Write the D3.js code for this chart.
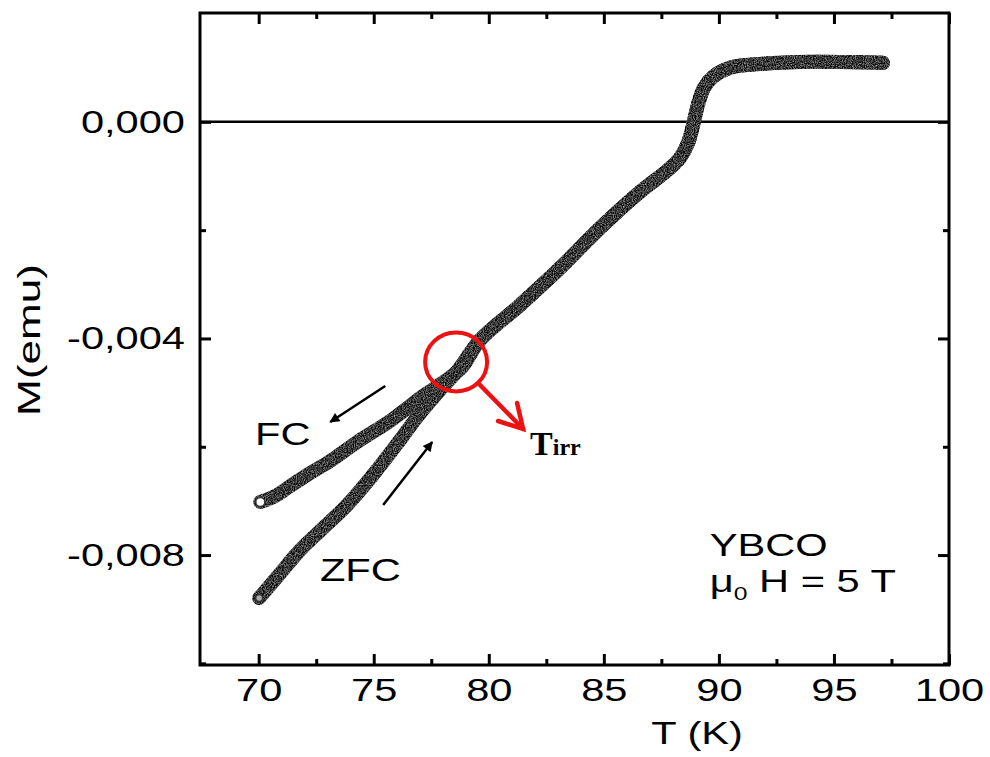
<!DOCTYPE html>
<html>
<head>
<meta charset="utf-8">
<script src="https://cdn.jsdelivr.net/npm/d3@7/dist/d3.min.js"></script>
<style>
  html, body { margin: 0; padding: 0; background: #fff; }
  svg { display: block; }
  text { font-family: "Liberation Sans", Arial, sans-serif; fill: #000; }
</style>
</head>
<body>
<svg id="chart" width="990" height="757"></svg>
<script>
// Magnetization M(T) of YBCO at 5 T: field-cooled (FC) and zero-field-cooled (ZFC) branches
// Low-temperature FC branch (K, emu)
const T_FC = [70.07, 70.72, 71.37, 72.24, 73.11, 74.28, 75.71, 77.14, 78.10, 78.84];
const M_FC = [-0.00702, -0.00691, -0.006725, -0.006485, -0.006263, -0.005912, -0.005524, -0.005062, -0.004785, -0.004527];
// Low-temperature ZFC branch
const T_ZFC = [70.02, 70.80, 71.80, 72.80, 73.84, 74.93, 76.02, 76.89, 77.76, 78.67];
const M_ZFC = [-0.008794, -0.008407, -0.007908, -0.007501, -0.007077, -0.00654, -0.005945, -0.005450, -0.005010, -0.004580];
// Reversible region above T_irr, shared by both branches
const T_REV = [79.62, 81.36, 83.10, 84.84, 86.57, 87.79, 88.31, 88.66, 88.88, 89.09, 89.35, 89.74, 90.48, 91.92, 94.09, 97.13];
const M_REV = [-0.004028, -0.003381, -0.002697, -0.001958, -0.001293, -0.000887, -0.000665, -0.000388, -0.000055, 0.000314, 0.000628, 0.000831, 0.000998, 0.001072, 0.001109, 0.00109];

// Axis ticks
const X_MAJOR = [70, 75, 80, 85, 90, 95, 100];
const X_MINOR = [72.5, 77.5, 82.5, 87.5, 92.5, 97.5];
const Y_MAJOR = [0, -0.004, -0.008];
const Y_MINOR = [-0.002, -0.006, -0.010];

const svg = d3.select("#chart");
const pL = 200, pR = 949, pT = 13, pB = 665;
const x = d3.scaleLinear().domain([67.45, 100]).range([pL, pR]);
const y = d3.scaleLinear().domain([-0.01003, 0.00201]).range([pB, pT]);
const SX = 1.3; // horizontal stretch of the lettering

// grain texture for the data bands
const defs = svg.append("defs");
const f = defs.append("filter").attr("id", "grain").attr("color-interpolation-filters", "sRGB")
  .attr("x", "-5%").attr("y", "-5%").attr("width", "110%").attr("height", "110%");
f.append("feTurbulence").attr("type", "fractalNoise").attr("baseFrequency", 0.9).attr("numOctaves", 2).attr("seed", 3).attr("result", "n");
f.append("feColorMatrix").attr("in", "n").attr("type", "matrix")
  .attr("values", "1.25 0 0 0 -0.4  1.25 0 0 0 -0.4  1.25 0 0 0 -0.4  0 0 0 0 1").attr("result", "g");
f.append("feComposite").attr("in", "g").attr("in2", "SourceGraphic").attr("operator", "in");

const fmtY = d => d3.format(".3f")(d).replace(".", ",").replace("\u2212", "-");

// axes
function styleAxis(g) {
  g.select(".domain").remove();
  g.selectAll("line").attr("stroke", "#000").attr("stroke-width", 3);
}
const bMaj = svg.append("g").attr("transform", `translate(0,${pB})`)
  .call(d3.axisBottom(x).tickValues(X_MAJOR).tickSize(-11).tickPadding(13).tickFormat(d3.format("d")));
styleAxis(bMaj);
bMaj.selectAll("text").style("font-size", "32px").attr("fill", "#000").attr("transform", `scale(${SX},1)`);
svg.append("g").attr("transform", `translate(0,${pB})`)
  .call(d3.axisBottom(x).tickValues(X_MINOR).tickSize(-6).tickFormat("")).call(styleAxis);
svg.append("g").attr("transform", `translate(0,${pT})`)
  .call(d3.axisTop(x).tickValues(X_MAJOR).tickSize(-11).tickFormat("")).call(styleAxis);
svg.append("g").attr("transform", `translate(0,${pT})`)
  .call(d3.axisTop(x).tickValues(X_MINOR).tickSize(-6).tickFormat("")).call(styleAxis);

const lMaj = svg.append("g").attr("transform", `translate(${pL},0)`)
  .call(d3.axisLeft(y).tickValues(Y_MAJOR).tickSize(-11).tickPadding(15).tickFormat(fmtY));
styleAxis(lMaj);
lMaj.selectAll("text").style("font-size", "32px").attr("fill", "#000")
  .attr("x", -15 / SX).attr("transform", `scale(${SX},1)`);
svg.append("g").attr("transform", `translate(${pL},0)`)
  .call(d3.axisLeft(y).tickValues(Y_MINOR).tickSize(-6).tickFormat("")).call(styleAxis);
svg.append("g").attr("transform", `translate(${pR},0)`)
  .call(d3.axisRight(y).tickValues(Y_MAJOR).tickSize(-11).tickFormat("")).call(styleAxis);
svg.append("g").attr("transform", `translate(${pR},0)`)
  .call(d3.axisRight(y).tickValues(Y_MINOR).tickSize(-6).tickFormat("")).call(styleAxis);

// zero line
svg.append("line").attr("x1", pL).attr("x2", pR).attr("y1", y(0)).attr("y2", y(0))
  .attr("stroke", "#000").attr("stroke-width", 2.5);

// frame
svg.append("rect").attr("x", pL).attr("y", pT).attr("width", pR - pL).attr("height", pB - pT)
  .attr("fill", "none").attr("stroke", "#000").attr("stroke-width", 3);

// axis titles
svg.append("text").attr("transform", `translate(697,744) scale(${SX},1)`).attr("text-anchor", "middle")
  .style("font-size", "32px").text("T (K)");
svg.append("text").attr("transform", `translate(40,340) rotate(-90) scale(1.38,1)`).attr("text-anchor", "middle")
  .style("font-size", "32px").text("M(emu)");

// data bands
const fc = T_FC.concat(T_REV).map((t, i) => [t, M_FC.concat(M_REV)[i]]);
const zfc = T_ZFC.concat(T_REV).map((t, i) => [t, M_ZFC.concat(M_REV)[i]]);
const line = d3.line().x(d => x(d[0])).y(d => y(d[1])).curve(d3.curveCatmullRom.alpha(0.5));
const bands = svg.append("g").attr("filter", "url(#grain)");
[fc, zfc].forEach(s => {
  bands.append("path").attr("d", line(s)).attr("fill", "none").attr("stroke", "#333")
    .attr("stroke-width", 14).attr("stroke-linecap", "round").attr("stroke-linejoin", "round");
});
// open end markers at the starting temperature
[fc, zfc].forEach((s, i) => {
  svg.append("circle").attr("cx", x(s[0][0])).attr("cy", y(s[0][1])).attr("r", i === 0 ? 4.5 : 3.5)
    .attr("fill", i === 0 ? "#fff" : "#aaa").attr("stroke", "#333").attr("stroke-width", 1.5);
});

// sweep-direction arrows
defs.append("marker").attr("id", "head").attr("viewBox", "0 0 10 10").attr("refX", 9).attr("refY", 5)
  .attr("markerWidth", 5.5).attr("markerHeight", 4).attr("orient", "auto-start-reverse").attr("markerUnits", "strokeWidth")
  .append("path").attr("d", "M0,0 L10,5 L0,10 z").attr("fill", "#000");
function arrow(t1, m1, t2, m2) {
  svg.append("line").attr("x1", x(t1)).attr("y1", y(m1)).attr("x2", x(t2)).attr("y2", y(m2))
    .attr("stroke", "#000").attr("stroke-width", 2.5).attr("marker-end", "url(#head)");
}
arrow(75.50, -0.004878, 73.11, -0.005543);
arrow(75.41, -0.007076, 77.54, -0.005912);

// branch labels
function label(t, m, str) {
  return svg.append("text").attr("transform", `translate(${x(t)},${y(m)}) scale(${SX},1)`).style("font-size", "32px").text(str);
}
label(67.45 + (255 - 200) / 23.02, -(445 - 122) * 0.004 / 216.5, "FC");
label(67.45 + (320 - 200) / 23.02, -(581 - 122) * 0.004 / 216.5, "ZFC");
label(67.45 + (710 - 200) / 23.02, -(556 - 122) * 0.004 / 216.5, "YBCO");
const mu = svg.append("text").attr("transform", `translate(${x(67.45 + 510 / 23.02)},${y(-(592 - 122) * 0.004 / 216.5)}) scale(${SX},1)`)
  .style("font-size", "32px");
mu.append("tspan").text("\u03bc");
mu.append("tspan").attr("dy", 8).style("font-size", "19px").text("0");
mu.append("tspan").attr("dy", -8).text(" H = 5 T");

// irreversibility point
const cT = 78.58, cM = -0.004434;
svg.append("ellipse").attr("cx", x(cT)).attr("cy", y(cM)).attr("rx", 31).attr("ry", 29.5)
  .attr("fill", "none").attr("stroke", "#ee1111").attr("stroke-width", 4);
const a1 = [x(79.62), y(-0.004859)], a2 = [x(81.49), y(-0.005672)];
svg.append("line").attr("x1", a1[0]).attr("y1", a1[1]).attr("x2", a2[0]).attr("y2", a2[1])
  .attr("stroke", "#ee1111").attr("stroke-width", 4.5).attr("stroke-linecap", "round");
svg.append("path").attr("d", `M${a2[0] - 25},${a2[1] - 8} L${a2[0]},${a2[1]} L${a2[0] - 6},${a2[1] - 26}`)
  .attr("fill", "none").attr("stroke", "#ee1111").attr("stroke-width", 4.5).attr("stroke-linecap", "round").attr("stroke-linejoin", "miter");
const tl = svg.append("text").attr("x", x(81.49) + 7).attr("y", y(-0.005672) + 26)
  .style("font-family", "'Liberation Serif', 'Times New Roman', serif").style("font-weight", "bold").style("font-size", "34px");
tl.append("tspan").text("T");
tl.append("tspan").style("font-size", "24px").text("irr");
</script>
</body>
</html>
